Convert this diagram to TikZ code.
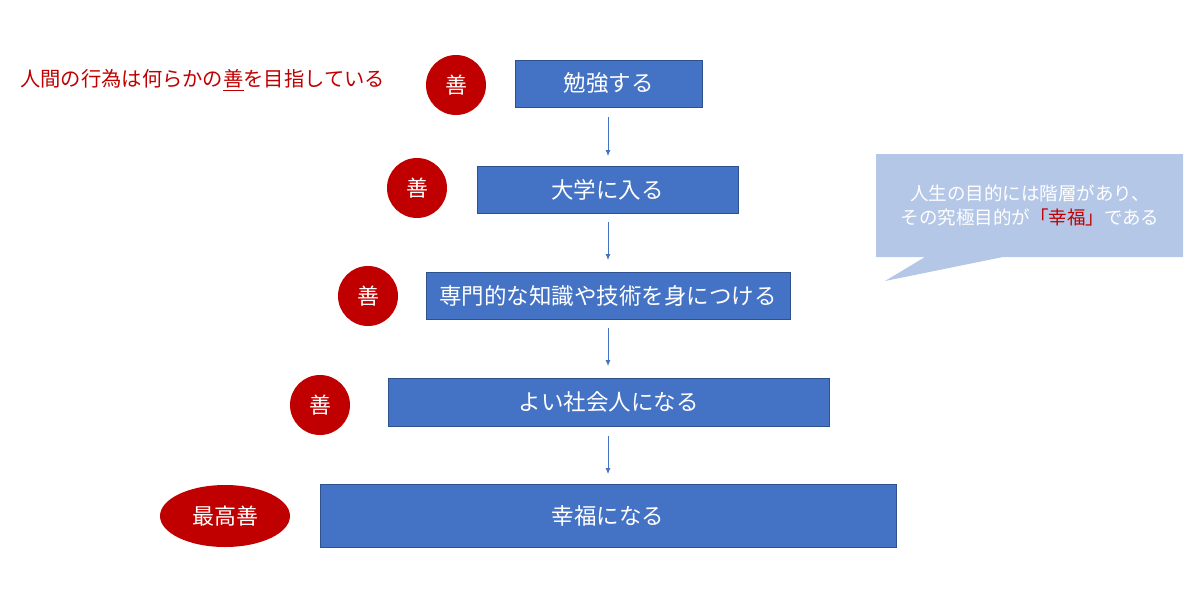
\documentclass[tikz,border=0pt]{standalone}
\usepackage{fontspec}
\newfontfamily\cjk{Noto Sans CJK JP}
\usetikzlibrary{arrows.meta,shapes.geometric}
\definecolor{boxblue}{HTML}{4472C4}
\definecolor{boxedge}{HTML}{2F528F}
\definecolor{dred}{HTML}{C00000}
\definecolor{callout}{HTML}{B4C7E7}
\begin{document}
\begin{tikzpicture}[x=1pt,y=-1pt,
  stepbox/.style={draw=boxedge,line width=0.8pt,fill=boxblue,text=white,font=\cjk\fontsize{22.5}{26}\selectfont},
  zen/.style={circle,fill=dred,text=white,minimum size=60pt,inner sep=0pt,font=\cjk\fontsize{22}{26}\selectfont},
  arr/.style={draw=boxblue,line width=0.8pt,-{Latex[length=6pt,width=5pt]}}]
\useasboundingbox (0,0) rectangle (1200,611);
\node[stepbox,minimum width=187pt,minimum height=47pt] (b1) at (608.5,83.5) {勉強する};
\node[stepbox,minimum width=261pt,minimum height=47pt] (b2) at (607.5,189.5) {大学に入る};
\node[stepbox,minimum width=364pt,minimum height=47pt] (b3) at (608,295.5) {専門的な知識や技術を身につける};
\node[stepbox,minimum width=441pt,minimum height=48pt] (b4) at (608.5,402) {よい社会人になる};
\node[stepbox,minimum width=576pt,minimum height=63pt] (b5) at (608,515.5) {幸福になる};
\coordinate (a1s) at (608,117); \coordinate (a1e) at (608,156);
\coordinate (a2s) at (608,222); \coordinate (a2e) at (608,260);
\coordinate (a3s) at (608,328); \coordinate (a3e) at (608,366);
\coordinate (a4s) at (608,436); \coordinate (a4e) at (608,474);
\draw[arr] (a1s) -- (a1e);
\draw[arr] (a2s) -- (a2e);
\draw[arr] (a3s) -- (a3e);
\draw[arr] (a4s) -- (a4e);
\node[zen] (z1) at (456,85) {善};
\node[zen] (z2) at (417,188) {善};
\node[zen] (z3) at (368,296) {善};
\node[zen] (z4) at (320,405) {善};
\node[ellipse,fill=dred,text=white,minimum width=130pt,minimum height=62pt,inner sep=0pt,font=\cjk\fontsize{22}{26}\selectfont] (z5) at (225,516) {最高善};
\node[anchor=west,text=dred,font=\cjk\fontsize{20.3}{24}\selectfont,inner sep=0pt] (lead) at (20,80) {人間の行為は何らかの\underline{善}を目指している};
\fill[callout] (876,154) -- (1183,154) -- (1183,257) -- (1003,257) -- (885,281) -- (925,257) -- (876,257) -- cycle;
\node[text=white,align=center,font=\cjk\fontsize{18.5}{24}\selectfont] (ct) at (1030,205) {人生の目的には階層があり、\\その究極目的が{\color{dred}「幸福」}である};
\end{tikzpicture}
\end{document}
